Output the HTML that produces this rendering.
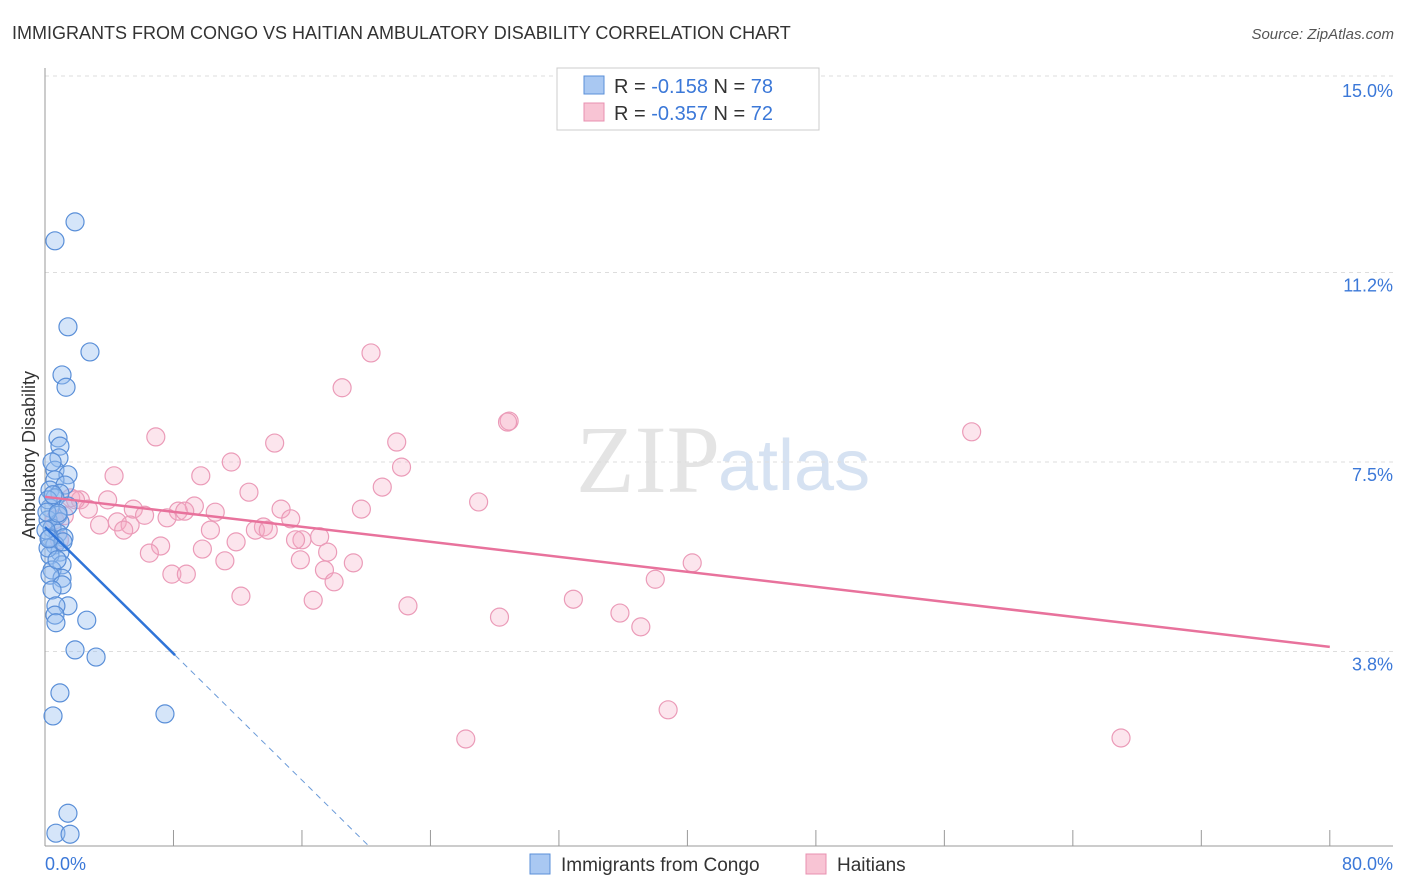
<!DOCTYPE html>
<html><head><meta charset="utf-8"><style>
body{margin:0;background:#fff;font-family:"Liberation Sans",sans-serif}
svg{display:block}
</style></head><body>
<svg id="chart" width="1406" height="892">
<text x="12" y="39" font-size="18" fill="#333">IMMIGRANTS FROM CONGO VS HAITIAN AMBULATORY DISABILITY CORRELATION CHART</text>
<text x="1394" y="39" font-size="15" fill="#555" font-style="italic" text-anchor="end">Source: ZipAtlas.com</text>
<text x="720" y="492" font-size="96" fill="#e4e4e4" text-anchor="end" font-family="Liberation Serif">ZIP</text>
<text x="718" y="490" font-size="72" fill="#d6e2f2">atlas</text>
<g id="grid"></g><g id="axes"></g><g id="pts"></g><g id="trend"></g>
<text transform="translate(35,455) rotate(-90)" font-size="18" fill="#333" text-anchor="middle">Ambulatory Disability</text>
<text x="45" y="870" font-size="18" fill="#3b78d8">0.0%</text>
<text x="1393" y="870" font-size="18" fill="#3b78d8" text-anchor="end">80.0%</text>
<g>
<rect x="557" y="68" width="262" height="62" fill="#fff" stroke="#ccc"/>
<rect x="584" y="76" width="20" height="18" fill="#a9c8f2" stroke="#5a8fd8"/>
<text x="614" y="93" font-size="20" fill="#333">R = <tspan fill="#3b78d8">-0.158</tspan>   N = <tspan fill="#3b78d8">78</tspan></text>
<rect x="584" y="103" width="20" height="18" fill="#f8c4d4" stroke="#e890b0"/>
<text x="614" y="120" font-size="20" fill="#333">R = <tspan fill="#3b78d8">-0.357</tspan>   N = <tspan fill="#3b78d8">72</tspan></text>
</g>
<g>
<rect x="530" y="854" width="20" height="20" fill="#a9c8f2" stroke="#5a8fd8"/>
<text x="561" y="871" font-size="19" fill="#333">Immigrants from Congo</text>
<rect x="806" y="854" width="20" height="20" fill="#f8c4d4" stroke="#e890b0"/>
<text x="837" y="871" font-size="19" fill="#333">Haitians</text>
</g>
</svg>
<script>
const yTicks=[3.8,7.5,11.2,15.0];
const yTickLabels=["3.8%","7.5%","11.2%","15.0%"];
const xTicks=[0,8,16,24,32,40,48,56,64,72,80];
const congoX=[0.62,1.87,1.43,2.8,1.06,1.31,0.81,0.93,0.87,0.62,1.43,0.62,1.25,0.31,0.93,0.62,1.43,0.31,0.81,0.19,0.93,0.44,0.81,0.31,1.18,0.62,0.93,0.31,1.06,0.44,1.06,0.31,1.06,0.44,1.43,0.68,0.62,0.68,2.6,1.87,3.18,0.93,0.5,7.47,1.43,0.68,1.56,0.19,0.44,0.06,0.19,0.75,0.12,0.5,1.12,0.25,0.81];
const congoY=[11.82,12.19,10.14,9.65,9.2,8.96,7.97,7.81,7.58,7.34,7.25,7.15,7.05,6.95,6.89,6.8,6.64,6.6,6.46,6.37,6.33,6.21,6.11,6.02,6.02,5.88,5.74,5.68,5.49,5.39,5.23,5.29,5.1,5.0,4.69,4.69,4.51,4.36,4.41,3.83,3.69,2.99,2.54,2.58,0.64,0.25,0.23,6.76,7.5,6.17,5.82,5.59,6.52,6.86,5.94,6.0,6.5];
const haitiX=[20.3,18.5,28.9,28.8,57.7,6.9,14.3,21.9,11.6,22.2,4.3,9.7,21.0,12.7,1.6,3.9,27.0,2.2,9.3,5.5,8.3,8.7,19.7,14.7,2.7,1.2,10.6,6.2,15.3,4.5,7.6,3.4,5.3,4.9,10.3,13.6,13.1,13.9,17.1,16.0,15.6,11.9,7.2,9.8,6.5,17.6,11.2,15.9,19.2,40.3,17.4,7.9,8.8,38.0,18.0,12.2,32.9,16.7,22.6,35.8,28.3,37.1,38.8,26.2,67.0,0.6,0.9,1.9];
const haitiY=[9.63,8.95,8.3,8.28,8.09,7.99,7.87,7.89,7.5,7.4,7.23,7.23,7.01,6.91,6.8,6.76,6.72,6.76,6.64,6.58,6.54,6.54,6.58,6.58,6.58,6.45,6.52,6.46,6.39,6.33,6.41,6.27,6.27,6.17,6.17,6.23,6.17,6.17,6.04,5.98,5.98,5.94,5.86,5.8,5.72,5.74,5.57,5.59,5.53,5.53,5.39,5.31,5.31,5.21,5.16,4.88,4.82,4.8,4.69,4.55,4.47,4.28,2.66,2.09,2.11,6.37,5.98,6.76];
const trendPink=[6.82,3.89];
const trendCongo=[6.23,-0.309];
const X=v=>45+v*16.06, Y=v=>846-v*51.2;
const NS="http://www.w3.org/2000/svg";
function mk(tag,attrs,parent){const e=document.createElementNS(NS,tag);for(const k in attrs)e.setAttribute(k,attrs[k]);document.getElementById(parent).appendChild(e);return e;}
yTicks.forEach((t,i)=>{
 const l=mk('line',{x1:45,x2:1393,y1:Y(t)-(i==3?2:0),y2:Y(t)-(i==3?2:0),stroke:'#ddd','stroke-dasharray':'4,4'},'grid');
 
 
 const tx=mk('text',{x:1393,y:Y(t)+19,'font-size':18,fill:'#3b78d8','text-anchor':'end'},'grid');
 tx.textContent=yTickLabels[i];
 
 
});
const ax=mk('line',{x1:45,x2:45,y1:68,y2:846,stroke:'#999'},'axes');


const bx=mk('line',{x1:45,x2:1393,y1:846,y2:846,stroke:'#999'},'axes');


xTicks.forEach(t=>{const l=mk('line',{x1:X(t),x2:X(t),y1:830,y2:846,stroke:'#999'},'axes');
 
 });
haitiX.forEach((x,i)=>{const c=mk('circle',{cx:X(x),cy:Y(haitiY[i]),r:9,fill:'rgba(245,170,195,0.3)',stroke:'#eb9bb8','stroke-width':1.2},'pts');
 
 });
congoX.forEach((x,i)=>{const c=mk('circle',{cx:X(x),cy:Y(congoY[i]),r:9,fill:'rgba(150,190,240,0.4)',stroke:'#5a8fd8','stroke-width':1.2},'pts');
 
 });
const pl=mk('line',{x1:X(0),y1:Y(trendPink[0]),x2:X(80),y2:Y(trendPink[1]),stroke:'#e8729c','stroke-width':2.5},'trend');


const cy=x=>trendCongo[0]+trendCongo[1]*x;
const bl=mk('line',{x1:X(0),y1:Y(cy(0)),x2:X(8.1),y2:Y(cy(8.1)),stroke:'#2f74d8','stroke-width':2.5},'trend');


const z=-trendCongo[0]/trendCongo[1];
const bd=mk('line',{x1:X(8.1),y1:Y(cy(8.1)),x2:X(z),y2:Y(0),stroke:'#6a9ad8','stroke-width':1,'stroke-dasharray':'6,5'},'trend');


</script>
</body></html>
